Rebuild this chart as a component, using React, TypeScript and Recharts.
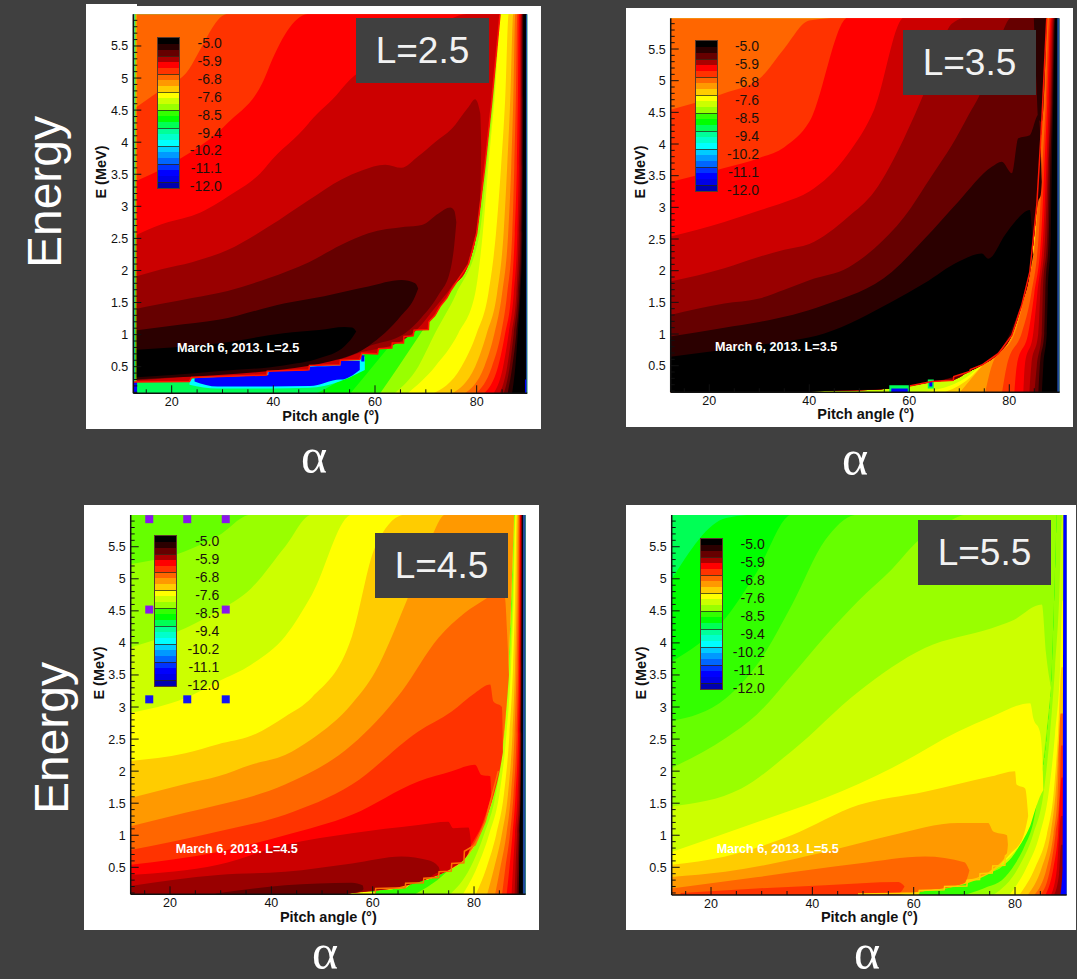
import { Area, ComposedChart, Line, ReferenceDot, XAxis, YAxis } from 'recharts'

// colour of each contour level, highest value first
const levelColors = [
  '#000000', '#2b0000', '#660000', '#990000', '#cc0000', '#ff0000', '#ff3300', '#ff6600', '#ff9900',
  '#ffcc00', '#ffff00', '#ccff00', '#99ff00', '#66ff00', '#33ff00', '#00ff00', '#00ff55', '#00ff99',
  '#00ffcc', '#00ffff', '#00ccff', '#0099ff', '#0066ff', '#0033ff', '#0000ff', '#1f4a9c',
]
const barColors = [
  '#000000', '#2b0000', '#660000', '#aa0000', '#ff0000', '#ff3300', '#ff6600', '#ff9900', '#ffcc00',
  '#ffff00', '#ccff00', '#99ff00', '#33ff00', '#00ff00', '#00ff55', '#00ff99', '#00ffcc', '#00ffff',
  '#00ccff', '#0099ff', '#0066ff', '#0033ff', '#0000ff', '#0000e6', '#0000b0',
]
const barLabels = ['-5.0', '-5.9', '-6.8', '-7.6', '-8.5', '-9.4', '-10.2', '-11.1', '-12.0']

const xTicks = [15, 20, 25, 30, 35, 40, 45, 50, 55, 60, 65, 70, 75, 80, 85]
const yTicks = Array.from({ length: 59 }, (_, i) => (i + 1) / 10)

const B = 0.02 // below every plot's lower limit
const rows = [0.05, 0.5, 1.02, 1.64, 2.58, 3.62, 4.66, 6]

type Band = { level: number; a: number[]; lo?: number[] | number; hi: number[] }
type Fan = { level: number; a: number[]; e?: number[] }

// ---- L=2.5 ----
const fans25: Fan[] = [
  { level: 15, a: [47.5, 56, 61, 70, 78, 80, 82, 84] },
  { level: 14, a: [54.8, 59.5, 65, 72, 79, 81, 82.5, 84] },
  { level: 12, a: [60.7, 64.6, 69, 74, 80, 81.5, 83, 84.5] },
  { level: 11, a: [63.3, 68.5, 71.8, 76, 80.6, 82, 83.3, 84.7] },
  { level: 10, a: [65.9, 71.8, 76.4, 79.7, 81.2, 82.3, 83.5, 84.9] },
  { level: 9, a: [70.5, 77, 80, 82.3, 83.8, 84.8, 85.6, 86.3] },
  { level: 8, a: [74.4, 79.7, 82, 84, 85.3, 86, 86.6, 87.2] },
  { level: 7, a: [77, 81.5, 83.5, 85, 86.2, 86.8, 87.2, 87.6] },
  { level: 6, a: [79.3, 83, 84.8, 86, 87, 87.4, 87.7, 88] },
  { level: 5, a: [81, 84.2, 85.6, 86.8, 87.5, 87.9, 88.1, 88.3] },
  { level: 4, a: [83, 85.2, 86.3, 87.3, 88, 88.3, 88.5, 88.6] },
  { level: 3, a: [84.3, 86, 86.9, 87.8, 88.3, 88.6, 88.7, 88.8] },
  { level: 2, a: [85.2, 86.5, 87.3, 88.1, 88.6, 88.8, 88.85, 88.9] },
  { level: 1, a: [86, 87, 87.8, 88.4, 88.8, 88.95, 89, 89.05] },
  { level: 0, a: [86.9, 87.6, 88.1, 88.6, 89, 89.1, 89.15, 89.2] },
]
const grid25 = [12.2, 18, 23.5, 23.9, 31, 38.7, 38.8, 47, 47.1, 53.1, 53.2, 57, 57.4, 60.5, 60.7, 63.3, 63.4, 65.6, 65.7, 67.5, 67.7, 70.5, 70.6, 71.8, 72.8, 74.1, 75, 78.4, 80, 81.6, 83, 84.6]
const lip25 = [0.26, 0.265, 0.27, 0.33, 0.35, 0.37, 0.43, 0.45, 0.52, 0.53, 0.6, 0.61, 0.71, 0.7, 0.78, 0.79, 0.87, 0.87, 0.97, 0.98, 1.07, 1.08, 1.2, 1.3, 1.44, 1.57, 1.7, 2.1, 2.58, 3.62, 4.66, 6]
const bands25: Band[] = [
  { level: 16, a: [12.2, 90.4], lo: B, hi: [6.1, 6.1] },
  ...fans25.map(fanBand),
  { level: 19, a: [23.5, 29, 39, 47, 50, 54, 58], lo: [0.22, 0.16, 0.16, 0.17, 0.2, 0.3, 0.45], hi: [0.3, 0.36, 0.44, 0.52, 0.56, 0.6, 0.66] },
  { level: 24, a: [24.5, 29, 39, 39.1, 47, 47.2, 53.2, 53.3, 57], lo: [0.27, 0.19, 0.19, 0.19, 0.2, 0.2, 0.3, 0.3, 0.45], hi: [0.32, 0.34, 0.37, 0.45, 0.45, 0.5, 0.52, 0.59, 0.59] },
  { level: 7, a: grid25, lo: lip25, hi: [6, 6] },
  { level: 6, a: grid25, lo: lip25, hi: [4.5, 4.82, 5.15, 5.2] },
  { level: 5, a: grid25, lo: lip25, hi: [3.37, 3.58, 3.83, 3.85, 4.3, 5.08, 5.1] },
  { level: 4, a: grid25, lo: lip25, hi: [2.52, 2.72, 2.84, 2.85, 3.15, 3.63, 3.64, 4.3, 4.31, 4.8, 4.81, 5.1, 5.12, 5.3, 5.32, 5.46, 5.47, 5.58, 5.58, 5.66, 5.67, 5.78, 5.78, 5.83, 5.87, 5.9, 5.93] },
  {
    level: 3,
    a: [12.2, 18, 24, 31, 39, 47, 53.4, 57.4, 62, 65.2, 68.5, 71.8, 75, 78.4, 79.7, 80.7, 80.9],
    lo: [0.28, 0.31, 0.35, 0.39, 0.45, 0.54, 0.62, 0.73, 0.8, 0.9, 1.1, 1.42, 1.74, 2.15, 2.5, 3.1, 3.9],
    hi: [1.89, 2.02, 2.13, 2.32, 2.68, 3.1, 3.42, 3.56, 3.65, 3.6, 3.78, 4, 4.2, 4.55, 4.67, 4.45, 3.9],
  },
  {
    level: 2,
    a: [12.2, 18, 24, 31, 39, 47, 53.4, 58.7, 65.9, 69.2, 72.5, 74.8, 75.6, 76],
    lo: [0.29, 0.32, 0.36, 0.41, 0.47, 0.57, 0.67, 0.82, 1.02, 1.27, 1.62, 2, 2.4, 2.75],
    hi: [1.39, 1.48, 1.57, 1.68, 1.88, 2.13, 2.4, 2.58, 2.68, 2.71, 2.89, 2.98, 2.93, 2.75],
  },
  {
    level: 1,
    a: [12.2, 20, 29.2, 42.3, 50, 58.7, 65.2, 67.9, 68.5],
    lo: [0.3, 0.33, 0.37, 0.46, 0.56, 0.82, 1.3, 1.6, 1.72],
    hi: [1.06, 1.14, 1.23, 1.49, 1.6, 1.75, 1.85, 1.8, 1.72],
  },
  {
    level: 0,
    a: [12.2, 20, 29, 42, 49, 54, 55.5, 56.3],
    lo: [0.33, 0.37, 0.43, 0.52, 0.63, 0.82, 0.95, 1.05],
    hi: [0.76, 0.8, 0.86, 1.02, 1.07, 1.12, 1.11, 1.05],
  },
  { level: 24, a: [57.3, 57.9], lo: [0.58, 0.58], hi: [0.68, 0.68] },
  { level: 11, a: [12.85, 13.05], lo: B, hi: [6.1, 6.1] },
  { level: 15, a: [12.7, 12.85], lo: B, hi: [6.1, 6.1] },
  { level: 19, a: [12.55, 12.7], lo: B, hi: [6.1, 6.1] },
  { level: 22, a: [12.2, 12.55], lo: B, hi: [6.1, 6.1] },
  { level: 24, a: [12.2, 13.2], lo: B, hi: [0.26, 0.26] },
  { level: 24, a: [89.5, 89.8], lo: B, hi: [0.3, 0.3] },
  { level: 25, a: [89.7, 90.4], lo: B, hi: [6.1, 6.1] },
]

// ---- L=3.5 ----
const fans35: Fan[] = [
  { level: 11, a: [40, 60, 66, 72, 74, 80.5, 83, 85, 86, 86.7, 87.4], e: [0.11, 0.14, 0.2, 0.3, 0.5, 1.02, 1.64, 2.58, 3.62, 4.66, 6] },
  { level: 10, a: [60, 70, 74.3, 80.5, 82.9, 85, 86, 86.7, 87.4], e: [0.05, 0.25, 0.5, 1.02, 1.64, 2.58, 3.62, 4.66, 6] },
  { level: 9, a: [66, 72, 74.5, 80.6, 83, 85.1, 86, 86.7, 87.4], e: [0.05, 0.3, 0.5, 1.02, 1.64, 2.58, 3.62, 4.66, 6] },
  { level: 8, a: [69.8, 74.6, 80.8, 83, 85.2, 86, 86.75, 87.5] },
  { level: 7, a: [75.1, 76.5, 81.1, 83.2, 85.3, 86.1, 86.8, 87.6] },
  { level: 6, a: [78.5, 79.5, 82.5, 84.4, 85.9, 86.6, 87.3, 88] },
  { level: 5, a: [81, 81.5, 83.8, 85, 86.4, 87, 87.6, 88.3] },
  { level: 4, a: [82.8, 83.1, 84.8, 85.6, 86.8, 87.4, 87.9, 88.5] },
  { level: 3, a: [84, 84.4, 85.8, 86.2, 87.2, 87.7, 88.2, 88.7] },
  { level: 2, a: [85, 85.5, 86.5, 86.7, 87.6, 87.9, 88.4, 88.9] },
  { level: 1, a: [85.8, 86.1, 87, 87.2, 87.9, 88.2, 88.6, 89.05] },
  { level: 0, a: [86.5, 86.8, 87.5, 87.7, 88.3, 88.5, 88.8, 89.2] },
]
const grid35 = [12.2, 23, 30, 35, 40, 47.8, 53, 59, 64.5, 68.5, 71.8, 74.5, 77.8, 80.5, 82.5, 84.1, 85.5, 86.5, 87.5]
const lip35 = [B, B, B, B, 0.1, 0.11, 0.12, 0.18, 0.25, 0.27, 0.4, 0.51, 0.69, 0.98, 1.46, 1.98, 3.04, 4.35, 6]
const bands35: Band[] = [
  { level: 11, a: [12.2, 90.4], lo: B, hi: [6.1, 6.1] },
  ...fans35.map(fanBand),
  { level: 7, a: grid35, lo: lip35, hi: [6, 6] },
  { level: 6, a: grid35, lo: lip35, hi: [4.54, 4.8, 5.03, 5.51, 5.95] },
  { level: 5, a: grid35, lo: lip35, hi: [3.4, 3.62, 3.78, 3.95, 4.35] },
  { level: 4, a: grid35, lo: lip35, hi: [2.54, 2.77, 2.95, 3.08, 3.25, 3.85, 4.55] },
  { level: 3, a: grid35, lo: lip35, hi: [1.83, 2.04, 2.22, 2.33, 2.42, 2.85, 3.25, 4.1, 5.1, 5.9] },
  { level: 2, a: grid35, lo: lip35, hi: [1.3, 1.48, 1.56, 1.7, 1.85, 2.05, 2.35, 2.85, 3.5, 3.98, 4.45, 4.85, 5.6] },
  {
    level: 1,
    a: [12.2, 23, 30, 43, 56.5, 63, 69.8, 76.5, 78.5, 80.5, 81.8, 84.1, 85.8, 86.3, 86.5],
    lo: [B, B, B, 0.1, 0.14, 0.22, 0.35, 0.62, 0.78, 0.98, 1.35, 1.95, 3.1, 3.2, 3.4],
    hi: [0.96, 1.1, 1.19, 1.46, 1.98, 2.5, 3.09, 3.64, 3.72, 3.54, 4.09, 4.14, 4.46, 3.93, 3.4],
  },
  { level: 1, a: [84.9, 85.4, 85.8, 86.5, 87.5], lo: [6, 5, 4.4, 4.35, 6], hi: [6, 6, 6, 6, 6] },
  {
    level: 0,
    a: [12.2, 23, 30, 43, 56.5, 63, 69.8, 74.5, 75.8, 79.1, 81.1, 84.1, 84.8],
    lo: [B, B, B, 0.1, 0.14, 0.22, 0.35, 0.52, 0.6, 0.85, 1.2, 1.95, 2.25],
    hi: [0.64, 0.75, 0.83, 1.01, 1.51, 1.8, 2.14, 2.27, 2.19, 2.56, 2.77, 2.96, 2.25],
  },
  { level: 16, a: [56, 60], lo: B, hi: [0.19, 0.19] },
  { level: 24, a: [56.4, 59.7], lo: B, hi: [0.14, 0.14] },
  { level: 16, a: [63.7, 64.9], lo: [0.14, 0.14], hi: [0.28, 0.28] },
  { level: 24, a: [64, 64.6], lo: [0.17, 0.17], hi: [0.25, 0.25] },
  { level: 25, a: [89.6, 90.4], lo: B, hi: [6.1, 6.1] },
]
const rimA35 = [60, 64.5, 68.8, 68.9, 72.1, 72.2, 74.5, 76.5, 77.8, 79.1, 80.5, 82.5, 84.1, 85.5, 86.5, 87.5]
const rimE35 = [0.18, 0.25, 0.27, 0.33, 0.41, 0.44, 0.51, 0.62, 0.69, 0.83, 0.98, 1.46, 1.98, 3.04, 4.35, 6]

// ---- L=4.5 ----
const fans45: Fan[] = [
  { level: 14, a: [60.5, 72.5, 78, 82, 85, 86.5, 87.3, 87.9] },
  { level: 12, a: [67.7, 75.5, 80.5, 83.6, 85.7, 86.8, 87.4, 88] },
  { level: 11, a: [74.9, 79.3, 82, 84.3, 86, 87, 87.6, 88.1] },
  { level: 10, a: [77.6, 80.6, 83, 85, 86.4, 87.3, 87.8, 88.2] },
  { level: 9, a: [80.2, 82.5, 84.4, 85.9, 87, 87.7, 88.1, 88.45] },
  { level: 8, a: [82.5, 84, 85.5, 86.7, 87.6, 88.1, 88.4, 88.65] },
  { level: 7, a: [84.1, 85.2, 86.4, 87.3, 88, 88.4, 88.65, 88.85] },
  { level: 6, a: [85.5, 86.2, 87.1, 87.8, 88.4, 88.7, 88.85, 89] },
  { level: 5, a: [86.4, 87, 87.6, 88.2, 88.7, 88.9, 89, 89.1] },
  { level: 4, a: [87.4, 87.7, 88.1, 88.6, 88.95, 89.1, 89.15, 89.2] },
  { level: 3, a: [88, 88.2, 88.5, 88.9, 89.1, 89.2, 89.25, 89.3] },
  { level: 2, a: [88.4, 88.6, 88.8, 89.1, 89.2, 89.3, 89.35, 89.4] },
  { level: 0, a: [88.8, 88.9, 89, 89.2, 89.35, 89.4, 89.45, 89.5] },
]
const grid45 = [12.2, 23, 29.5, 36, 42.7, 48, 55.9, 60.5, 66.4, 67.7, 71.6, 74.3, 76.9, 80.2, 82.2, 84.8, 86.4, 87.3, 87.9]
const lip45 = [B, B, B, B, B, 0.09, 0.1, 0.14, 0.18, 0.25, 0.33, 0.43, 0.54, 0.85, 1.21, 2, 3.04, 4.6, 6]
const bands45: Band[] = [
  { level: 14, a: [12.2, 90.4], lo: B, hi: [6.1, 6.1] },
  ...fans45.map(fanBand),
  { level: 10, a: [48, 60.5], lo: B, hi: [0.12, 0.12] },
  { level: 13, a: grid45, lo: lip45, hi: [6, 6] },
  { level: 12, a: grid45, lo: lip45, hi: [5.23, 5.43, 5.67] },
  { level: 11, a: grid45, lo: lip45, hi: [3.93, 4.23, 4.5, 4.85, 5.5] },
  { level: 10, a: grid45, lo: lip45, hi: [2.91, 3.14, 3.4, 3.66, 4.1, 4.75] },
  { level: 9, a: grid45, lo: lip45, hi: [2.16, 2.28, 2.42, 2.55, 2.85, 3.15, 4.1, 5.5] },
  { level: 8, a: grid45, lo: lip45, hi: [1.58, 1.8, 1.92, 2.1, 2.25, 2.5, 3.05, 3.55, 4.6, 4.85, 5.65] },
  {
    level: 7,
    a: [12.2, 23, 29.5, 42.7, 55.9, 65.7, 73, 78.2, 82.2, 84, 86.1, 86.5, 86.9],
    lo: [B, B, B, B, 0.1, 0.2, 0.4, 0.65, 1.21, 1.7, 2.75, 3.1, 3.5],
    hi: [1.14, 1.35, 1.47, 1.79, 2.41, 3.24, 4.08, 4.47, 4.68, 4.78, 4.7, 4.2, 3.5],
  },
  {
    level: 6,
    a: [12.2, 29.5, 42.7, 55.9, 69, 75.6, 80.2, 83.2, 83.8, 85.5, 85.7],
    lo: [B, B, B, 0.1, 0.3, 0.5, 0.9, 1.45, 1.6, 2.2, 2.3],
    hi: [0.77, 1.06, 1.32, 1.79, 2.62, 2.93, 3.22, 3.35, 3.09, 3, 2.3],
  },
  {
    level: 5,
    a: [12.2, 29.5, 42.7, 55.9, 69, 75.6, 80.2, 81.5, 83.2, 83.4],
    lo: [B, B, B, 0.1, 0.3, 0.5, 0.95, 1.15, 1.55, 1.6],
    hi: [0.54, 0.74, 1, 1.32, 1.84, 2, 2.1, 1.94, 1.92, 1.6],
  },
  {
    level: 4,
    a: [12.2, 29.5, 42.7, 55.9, 69, 74.9, 75.9, 78.9, 79.3, 79.4],
    lo: [B, B, B, 0.1, 0.28, 0.45, 0.5, 0.72, 0.8, 0.8],
    hi: [0.38, 0.54, 0.85, 1.03, 1.16, 1.21, 1.11, 1.12, 0.95, 0.8],
  },
  {
    level: 3,
    a: [12.2, 29.5, 42.7, 55.9, 65.7, 71, 73, 73.3],
    lo: [B, B, B, 0.1, 0.2, 0.33, 0.42, 0.42],
    hi: [0.21, 0.38, 0.43, 0.56, 0.67, 0.61, 0.51, 0.42],
  },
  {
    level: 2,
    a: [29, 42.7, 55.9, 58, 58.2],
    lo: [B, B, 0.1, 0.14, 0.16],
    hi: [0.09, 0.22, 0.26, 0.22, 0.16],
  },
  { level: 25, a: [89.65, 90.4], lo: B, hi: [6.1, 6.1] },
]
const rimA45 = [60.5, 60.6, 66.4, 66.5, 70, 70.1, 73, 73.1, 75.5, 75.6, 78, 78.1, 80.2, 82.2, 84.8]
const rimE45 = [0.1, 0.17, 0.18, 0.25, 0.26, 0.33, 0.34, 0.43, 0.44, 0.56, 0.57, 0.75, 0.85, 1.21, 2]
const handleA = [15.9, 23.4, 31]
const handleE = [5.93, 4.52, 3.12]

// ---- L=5.5 ----
const fans55: Fan[] = [
  { level: 11, a: [75.4, 80.7, 83.6, 85.6, 86.9, 87.9, 88.7, 89.3] },
  { level: 10, a: [78.7, 82.3, 84.9, 86.6, 87.9, 88.9, 89.35] },
  { level: 9, a: [80.7, 84, 86.3, 87.6, 88.5, 89.2] },
  { level: 8, a: [82.3, 85.3, 87, 88, 88.9] },
  { level: 7, a: [83.6, 86.3, 87.6, 88.4, 89], e: [0.05, 0.5, 1.02, 1.64, 2.9] },
  { level: 6, a: [84.9, 87, 88, 88.8, 89.1], e: [0.05, 0.5, 1.02, 1.64, 2.4] },
  { level: 5, a: [85.9, 87.6, 88.5, 89.2], e: [0.05, 0.5, 1.02, 1.9] },
  { level: 4, a: [87, 88.3, 89.1], e: [0.05, 0.5, 1.3] },
  { level: 3, a: [87.6, 88.7, 89.1], e: [0.05, 0.4, 0.85] },
]
const grid55 = [12.2, 23, 29, 36, 42.5, 49, 55.7, 61, 66, 70.5, 74.7, 77.4, 80, 82, 83.6, 85, 86.3, 87.3, 88.2]
const lip55 = [B, B, B, B, B, B, 0.09, 0.13, 0.17, 0.27, 0.41, 0.51, 0.8, 1.1, 1.45, 1.85, 2.6, 3.7, 6]
const bands55: Band[] = [
  { level: 12, a: [12.2, 90.4], lo: B, hi: [6.1, 6.1] },
  {
    level: 14,
    a: [60, 66, 70.5, 74.7, 77.4, 80, 82, 83.6, 85],
    lo: [B, B, 0.08, 0.2, 0.3, 0.55, 0.85, 1.2, 1.85],
    hi: [0.13, 0.18, 0.28, 0.42, 0.55, 0.85, 1.15, 1.5, 1.85],
  },
  ...fans55.map(fanBand),
  { level: 10, a: [48, 61], lo: B, hi: [0.11, 0.11] },
  { level: 16, a: grid55, lo: lip55, hi: [6, 6] },
  { level: 15, a: grid55, lo: lip55, hi: [4.99, 5.95] },
  { level: 14, a: grid55, lo: lip55, hi: [3.71, 4.4, 5.1] },
  { level: 13, a: grid55, lo: lip55, hi: [2.78, 3.14, 3.65, 4.6, 5.6] },
  { level: 12, a: grid55, lo: lip55, hi: [2.05, 2.52, 2.88, 3.5, 4.1, 4.65, 5.15, 5.6, 5.85] },
  {
    level: 11,
    a: [12.2, 26, 35.9, 49.1, 62.2, 75.4, 79.3, 85.3, 86.1, 87.1],
    lo: [B, B, B, B, 0.13, 0.45, 0.65, 2.05, 2.55, 3.3],
    hi: [1.45, 1.73, 2.31, 3.24, 3.92, 4.23, 4.34, 4.6, 3.85, 3.3],
  },
  {
    level: 10,
    a: [12.2, 29.3, 42.5, 55.7, 68.8, 75.4, 83, 83.6, 84.9, 85.4, 85.6],
    lo: [B, B, B, 0.09, 0.25, 0.45, 1.15, 1.3, 1.6, 1.68, 1.7],
    hi: [0.74, 1.21, 1.58, 2.05, 2.62, 2.85, 3.06, 2.83, 2.62, 2.2, 1.7],
  },
  {
    level: 9,
    a: [12.2, 22.8, 35.9, 49.1, 62.2, 75.4, 80, 80.3, 82, 82.6],
    lo: [B, B, B, 0.09, 0.13, 0.42, 0.78, 0.8, 1.08, 1.3],
    hi: [0.54, 0.67, 1, 1.47, 1.68, 1.92, 2, 1.79, 1.73, 1.3],
  },
  {
    level: 8,
    a: [12.2, 22.8, 42.5, 55.7, 68.8, 74.7, 75.7, 78.4, 78.6],
    lo: [B, B, B, 0.09, 0.27, 0.42, 0.48, 0.72, 0.85],
    hi: [0.35, 0.43, 0.74, 1, 1.19, 1.19, 1.06, 1, 0.85],
  },
  {
    level: 7,
    a: [12.2, 29.3, 49.1, 62.2, 70, 71],
    lo: [B, B, B, 0.13, 0.25, 0.45],
    hi: [0.17, 0.35, 0.56, 0.67, 0.58, 0.45],
  },
  {
    level: 6,
    a: [14, 29, 42.5, 57, 58.2],
    lo: [B, B, B, 0.09, 0.2],
    hi: [0.1, 0.17, 0.22, 0.27, 0.2],
  },
  { level: 24, a: [88.9, 89.4, 89.55, 90.4], lo: B, hi: [0.05, 0.5, 6.1, 6.1] },
]
const rimA55 = [49, 55.7, 61, 61.1, 66, 66.1, 70.5, 70.6, 73, 73.1, 75.5, 75.6, 78, 78.1, 80]
const rimE55 = [0.085, 0.09, 0.1, 0.14, 0.15, 0.2, 0.21, 0.3, 0.31, 0.4, 0.41, 0.52, 0.53, 0.68, 0.8]

function fanBand(fan: Fan): Band {
  const e = fan.e ?? rows
  const hi = fan.a.map((_, i) => e[i])
  return { level: fan.level, a: [...fan.a, 89.8], lo: B, hi: [...hi, hi[hi.length - 1]] }
}

function bandRows(band: Band) {
  return band.a.map((a, i) => {
    const lo = typeof band.lo === 'number' ? band.lo : band.lo ? band.lo[i] : B
    return { a, e: [lo, band.hi[i] ?? 6] }
  })
}

const FONT = '"Liberation Sans", Arial, sans-serif'

function XTick({ x, y, payload }: any) {
  const major = payload.value % 20 === 0
  return (
    <g>
      <line x1={x} x2={x} y1={y} y2={y - (major ? 8 : 4)} stroke="#111" strokeWidth={1} />
      {major && (
        <text x={x} y={y + 12.5} textAnchor="middle" fontSize={12.5} fill="#111" fontFamily={FONT}>
          {payload.value}
        </text>
      )}
    </g>
  )
}

function YTick({ x, y, payload }: any) {
  const major = Number.isInteger(payload.value * 2)
  return (
    <g>
      <line x1={x} x2={x + (major ? 8 : 4)} y1={y} y2={y} stroke="#111" strokeWidth={1} />
      {major && (
        <text x={x - 5} y={y + 4.5} textAnchor="end" fontSize={12.5} fill="#111" fontFamily={FONT}>
          {payload.value}
        </text>
      )}
    </g>
  )
}

function ColorBar({ left, top, right }: { left: number; top: number; right: number }) {
  return (
    <>
      <div style={{ position: 'absolute', left, top, width: 21, height: 150, outline: '1px solid #5a3a2a' }}>
        {barColors.map((c, i) => (
          <div
            key={i}
            style={{
              height: 6,
              background: c,
              boxSizing: 'border-box',
              borderTop: i > 0 && i % 3 === 0 ? '1px solid rgba(40,40,20,0.75)' : 'none',
            }}
          />
        ))}
      </div>
      {barLabels.map((t, i) => (
        <div
          key={t}
          style={{
            position: 'absolute',
            left: right - 50,
            width: 50,
            top: top + 5.3 + i * 17.9 - 9,
            height: 18,
            lineHeight: '18px',
            textAlign: 'right',
            fontFamily: FONT,
            fontSize: 14,
            color: '#1c120c',
          }}
        >
          {t}
        </div>
      ))}
    </>
  )
}

function Panel(p: any) {
  const [cl, ct, cr, cb] = p.card
  const [pl, pt, pr, pb] = p.plot
  return (
    <div style={{ position: 'absolute', left: cl, top: ct, width: cr - cl, height: cb - ct, background: '#fff' }}>
      <ComposedChart
        width={cr - cl}
        height={cb - ct}
        margin={{ top: pt - ct, right: cr - pr, bottom: 0, left: 0 }}
      >
        {p.bands.map((b: Band, i: number) => (
          <Area
            key={i}
            data={bandRows(b)}
            dataKey="e"
            type="monotoneX"
            stroke="none"
            fill={levelColors[b.level]}
            fillOpacity={1}
            dot={false}
            activeDot={false}
            isAnimationActive={false}
          />
        ))}
        <Line
          data={p.rimA.map((a: number, i: number) => ({ a, rim: p.rimE[i] }))}
          dataKey="rim"
          type="linear"
          stroke={p.rimColor}
          strokeWidth={1.5}
          dot={false}
          activeDot={false}
          isAnimationActive={false}
        />
        {p.handles &&
          p.handles.map((h: number[], i: number) => (
            <ReferenceDot
              key={i}
              x={h[0]}
              y={h[1]}
              ifOverflow="visible"
              shape={(s: any) => (
                <rect x={s.cx - 4} y={s.cy - 4} width={8} height={8} fill={h[1] < 4 ? '#1414f5' : '#8a14ee'} />
              )}
            />
          ))}
        <XAxis
          dataKey="a"
          type="number"
          domain={p.xDomain}
          ticks={xTicks}
          interval={0}
          allowDataOverflow
          height={cb - pb}
          tickLine={false}
          tickSize={0}
          tickMargin={0}
          tick={<XTick />}
          stroke="#111"
          strokeWidth={1.5}
        />
        <YAxis
          type="number"
          domain={p.yDomain}
          ticks={yTicks}
          interval={0}
          allowDataOverflow
          width={pl - cl}
          tickLine={false}
          tickSize={0}
          tickMargin={0}
          tick={<YTick />}
          stroke="#111"
          strokeWidth={1.5}
        />
      </ComposedChart>
    </div>
  )
}

function Tag({ x, y, w, h, text, style }: any) {
  return (
    <div
      style={{
        position: 'absolute',
        left: x,
        top: y,
        width: w,
        height: h,
        lineHeight: `${h}px`,
        textAlign: 'center',
        whiteSpace: 'nowrap',
        fontFamily: FONT,
        ...style,
      }}
    >
      {text}
    </div>
  )
}

const panels = [
  {
    card: [86, 6, 541, 429], plot: [133.3, 14.3, 527.3, 393.3], xDomain: [12.45, 89.96], yDomain: [0.085, 5.994],
    bands: bands25, rimA: grid25, rimE: lip25, rimColor: '#ff1500', bar: [157.7, 37.7, 221.7],
    tag: [356, 18], name: 'L=2.5', note: [177, 347.7], noteText: 'March 6, 2013. L=2.5', pitch: [330.7, 416], e: [100.7, 171.7],
  },
  {
    card: [626, 8, 1073, 426.7], plot: [670.7, 18.3, 1059.7, 392.3], xDomain: [12.28, 90.08], yDomain: [0.08, 5.985],
    bands: bands35, rimA: rimA35, rimE: rimE35, rimColor: '#ff1500', bar: [695.7, 41, 759],
    tag: [903, 30], name: 'L=3.5', note: [715, 347], noteText: 'March 6, 2013. L=3.5', pitch: [865.7, 414], e: [640, 172],
  },
  {
    card: [84, 505, 539, 930], plot: [130.7, 515, 525.7, 894.3], xDomain: [12.24, 90.2], yDomain: [0.079, 5.995],
    bands: bands45, rimA: rimA45, rimE: rimE45, rimColor: '#ff7000', bar: [155, 536, 219.3],
    tag: [375, 533], name: 'L=4.5', note: [175.7, 849], noteText: 'March 6, 2013. L=4.5', pitch: [328.3, 917.3], e: [99, 672.5],
    handles: handleE.flatMap((e) => handleA.filter((_, i) => e !== handleE[1] || i !== 1).map((a) => [a, e])),
  },
  {
    card: [626, 505, 1076, 930], plot: [671.7, 515, 1066.7, 895], xDomain: [12.24, 90.2], yDomain: [0.068, 5.995],
    bands: bands55, rimA: rimA55, rimE: rimE55, rimColor: '#ffd000', bar: [700.7, 539, 764.7],
    tag: [918, 520], name: 'L=5.5', note: [716.7, 849], noteText: 'March 6, 2013. L=5.5', pitch: [869.3, 917.3], e: [640.7, 672.5],
  },
]

const sideLabels = [
  { t: 'Energy', x: 45, y: 192 },
  { t: 'Energy', x: 52, y: 738 },
]
const alphaLabels = [
  { x: 314, y: 456 },
  { x: 855, y: 458 },
  { x: 325, y: 952 },
  { x: 867, y: 952 },
]

export default function App() {
  return (
    <div style={{ position: 'absolute', left: 0, top: 0, width: 1077, height: 979, background: '#404040', overflow: 'hidden' }}>
      <div style={{ position: 'absolute', left: 86, top: 4, width: 51, height: 2, background: '#fff' }} />
      {panels.map((p) => (
        <div key={p.name}>
          <Panel {...p} />
          <ColorBar left={p.bar[0]} top={p.bar[1]} right={p.bar[2]} />
          <Tag x={p.tag[0]} y={p.tag[1]} w={133} h={65} text={p.name} style={{ background: '#404040', color: '#f2f2f2', fontSize: 37 }} />
          <Tag x={p.note[0]} y={p.note[1] - 10} w={130} h={20} text={p.noteText} style={{ color: '#fff', fontWeight: 700, fontSize: 12.6, textAlign: 'left' }} />
          <Tag x={p.pitch[0] - 60} y={p.pitch[1] - 8} w={120} h={16} text="Pitch angle (°)" style={{ color: '#111', fontWeight: 700, fontSize: 14.5 }} />
          <Tag x={p.e[0] - 40} y={p.e[1] - 10} w={80} h={20} text="E (MeV)" style={{ color: '#111', fontWeight: 700, fontSize: 14.5, transform: 'rotate(-90deg)' }} />
        </div>
      ))}
      {sideLabels.map((s) => (
        <Tag key={s.y} x={s.x - 100} y={s.y - 30} w={200} h={60} text={s.t} style={{ color: '#fff', fontSize: 48, transform: 'rotate(-90deg)' }} />
      ))}
      {alphaLabels.map((s) => (
        <Tag key={s.x} x={s.x - 25} y={s.y - 18} w={50} h={36} text="α" style={{ color: '#fff', fontSize: 50, fontFamily: '"Liberation Serif", serif' }} />
      ))}
    </div>
  )
}
